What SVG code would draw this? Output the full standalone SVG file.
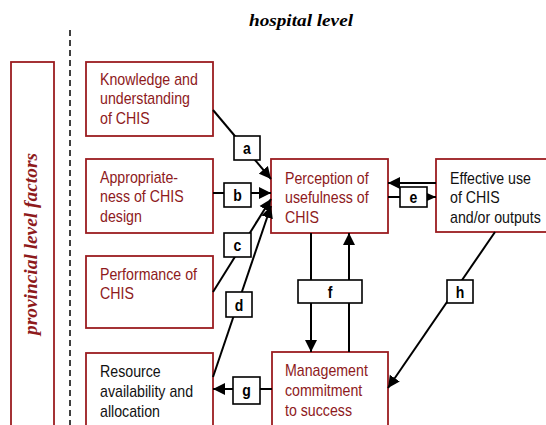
<svg xmlns="http://www.w3.org/2000/svg" width="546" height="425" viewBox="0 0 546 425">
<defs>
<marker id="arr" markerUnits="userSpaceOnUse" markerWidth="13" markerHeight="13" refX="12" refY="6.5" orient="auto">
<path d="M0,0.5 L12,6.5 L0,12.5 z" fill="#000"/>
</marker>
<marker id="arrs" markerUnits="userSpaceOnUse" markerWidth="10" markerHeight="10" refX="9" refY="5" orient="auto">
<path d="M0,1 L9,5 L0,9 z" fill="#000"/>
</marker>
<style>
.box{fill:#fff;stroke:#9b1c20;stroke-width:1.8}
.t{font-family:"Liberation Sans",Arial,sans-serif;font-size:17px}
.red{fill:#8e1a1c}
.blk{fill:#111}
.lbl{fill:#fff;stroke:#000;stroke-width:1.6}
.lt{font-family:"Liberation Sans",Arial,sans-serif;font-size:16.5px;font-weight:bold;fill:#000;text-anchor:middle}
.c{stroke:#000;stroke-width:2;fill:none}
.hd{font-family:"Liberation Serif","Times New Roman",serif;font-weight:bold;font-style:italic}
</style>
</defs>
<rect width="546" height="425" fill="#fff"/>

<text class="hd" x="249" y="26" font-size="17.5" textLength="104" lengthAdjust="spacingAndGlyphs" fill="#000">hospital level</text>

<g id="provincial">
<rect class="box" x="11" y="62" width="43" height="372"/>
<text class="hd" transform="translate(37,244) rotate(-90)" text-anchor="middle" font-size="18" textLength="182" lengthAdjust="spacingAndGlyphs" fill="#8e1a1c">provincial level factors</text>
</g>
<line x1="70" y1="30" x2="70" y2="425" stroke="#000" stroke-width="1.5" stroke-dasharray="6,4"/>

<g id="knowledge">
<rect class="box" x="86" y="62" width="127" height="74"/>
<g transform="translate(100,0) scale(0.835,1)">
<text class="t red" x="0" y="85">Knowledge and</text>
<text class="t red" x="0" y="104.5">understanding</text>
<text class="t red" x="0" y="124">of CHIS</text>
</g>
</g>
<g id="appropriateness">
<rect class="box" x="86" y="159" width="127" height="74"/>
<g transform="translate(100,0) scale(0.835,1)">
<text class="t red" x="0" y="183">Appropriate-</text>
<text class="t red" x="0" y="202.5">ness of CHIS</text>
<text class="t red" x="0" y="222">design</text>
</g>
</g>
<g id="performance">
<rect class="box" x="86" y="256" width="127" height="72"/>
<g transform="translate(100,0) scale(0.835,1)">
<text class="t red" x="0" y="280">Performance of</text>
<text class="t red" x="0" y="299.5">CHIS</text>
</g>
</g>
<g id="resource">
<rect class="box" x="86" y="353" width="127" height="81"/>
<g transform="translate(100,0) scale(0.835,1)">
<text class="t blk" x="0" y="377">Resource</text>
<text class="t blk" x="0" y="397">availability and</text>
<text class="t blk" x="0" y="417">allocation</text>
</g>
</g>
<g id="perception">
<rect class="box" x="271" y="159" width="117" height="74"/>
<g transform="translate(285,0) scale(0.835,1)">
<text class="t red" x="0" y="184">Perception of</text>
<text class="t red" x="0" y="203.5">usefulness of</text>
<text class="t red" x="0" y="223">CHIS</text>
</g>
</g>
<g id="effective">
<rect class="box" x="436" y="159" width="114" height="73"/>
<g transform="translate(450,0) scale(0.835,1)">
<text class="t blk" x="0" y="184">Effective use</text>
<text class="t blk" x="0" y="203.5">of CHIS</text>
<text class="t blk" x="0" y="223">and/or outputs</text>
</g>
</g>
<g id="management">
<rect class="box" x="272" y="352" width="116" height="82"/>
<g transform="translate(285,0) scale(0.835,1)">
<text class="t red" x="0" y="376">Management</text>
<text class="t red" x="0" y="396">commitment</text>
<text class="t red" x="0" y="416">to success</text>
</g>
</g>

<g id="connectors">
<line class="c" x1="213" y1="110" x2="271" y2="179" marker-end="url(#arr)"/>
<line class="c" x1="213" y1="193" x2="271" y2="193" marker-end="url(#arr)"/>
<line class="c" x1="213" y1="292" x2="271" y2="199" marker-end="url(#arr)"/>
<line class="c" x1="213" y1="377" x2="271" y2="206" marker-end="url(#arr)"/>
<line class="c" x1="436" y1="183" x2="388" y2="183" marker-end="url(#arr)"/>
<line class="c" x1="388" y1="197" x2="436" y2="197" marker-end="url(#arrs)"/>
<line class="c" x1="311" y1="233" x2="311" y2="352" marker-end="url(#arr)"/>
<line class="c" x1="349" y1="352" x2="349" y2="233" marker-end="url(#arr)"/>
<line class="c" x1="495" y1="232" x2="388" y2="388" marker-end="url(#arr)"/>
<line class="c" x1="272" y1="389" x2="213" y2="389" marker-end="url(#arr)"/>

<g id="label-a"><rect class="lbl" x="234" y="136" width="26" height="24"/><text class="lt" transform="translate(247,154) scale(0.85,1)">a</text></g>
<g id="label-b"><rect class="lbl" x="224" y="183" width="27" height="24"/><text class="lt" transform="translate(237.5,201) scale(0.85,1)">b</text></g>
<g id="label-c"><rect class="lbl" x="224" y="233" width="27" height="24"/><text class="lt" transform="translate(237.5,251) scale(0.85,1)">c</text></g>
<g id="label-d"><rect class="lbl" x="226" y="292" width="26" height="25"/><text class="lt" transform="translate(239,310.5) scale(0.85,1)">d</text></g>
<g id="label-e"><rect class="lbl" x="400" y="187" width="27" height="20"/><text class="lt" transform="translate(413.5,203) scale(0.85,1)">e</text></g>
<g id="label-f"><rect class="lbl" x="298" y="280" width="64" height="23"/><text class="lt" transform="translate(330,297.5) scale(0.85,1)">f</text></g>
<g id="label-h"><rect class="lbl" x="447" y="280" width="26" height="23"/><text class="lt" transform="translate(460,297.5) scale(0.85,1)">h</text></g>
<g id="label-g"><rect class="lbl" x="233" y="377" width="27" height="27"/><text class="lt" transform="translate(246.5,395.5) scale(0.85,1)">g</text></g>
</g>
</svg>
